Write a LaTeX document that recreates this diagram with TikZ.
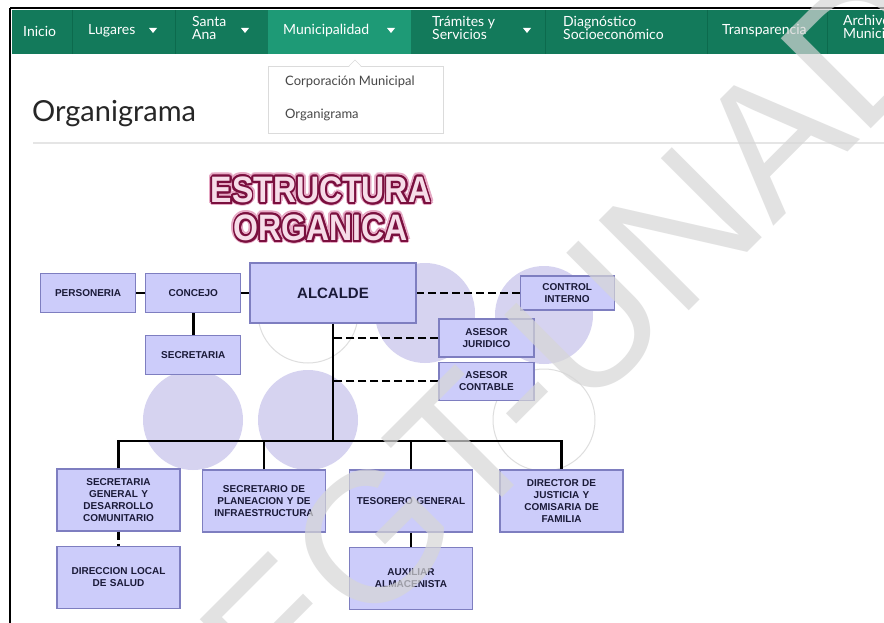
\documentclass[tikz,border=0pt]{standalone}
\usepackage{fontspec}
\setmainfont{Lato}
\newfontfamily\arialfont{Liberation Sans}
\usepackage[copies]{contour}
\usetikzlibrary{positioning}

\definecolor{navgreen}{HTML}{137A5B}
\definecolor{navactive}{HTML}{1E9A76}
\definecolor{navsep}{HTML}{0C6A4D}
\definecolor{boxfill}{HTML}{CCCCFA}
\definecolor{boxline}{HTML}{7E7EC0}
\definecolor{boxtext}{HTML}{1A1A38}
\definecolor{circfill}{HTML}{D6D3F0}
\definecolor{titlered}{HTML}{7A0F3E}
\definecolor{titleglow}{HTML}{E6A8C4}
\definecolor{titlefill}{HTML}{F6DCE8}

\newcommand{\titleword}[1]{\scalebox{1}[1.15]{\textcolor{titleglow}{\contourlength{3.2pt}\contour{titleglow}{#1}}}}
\newcommand{\titleface}[1]{\scalebox{1}[1.15]{\textcolor{titlefill}{\contourlength{1.8pt}\contour{titlered}{#1}}}}

\begin{document}
\begin{tikzpicture}[x=1pt, y=-1pt,
    node distance=8pt and 8pt,
    navitem/.style={anchor=west, inner sep=0pt, align=left, text=white, font=\fontsize{14}{12.5}\selectfont},
    navarrow/.style={fill=white},
    dropitem/.style={anchor=west, inner sep=0pt, text=black!72, font=\fontsize{13}{12}\selectfont},
    orgbox/.style={rectangle, draw=boxline, line width=1.2pt, fill=boxfill, align=center, text=boxtext,
        inner sep=1pt, font=\arialfont\bfseries\fontsize{10}{12}\selectfont},
    smallbox/.style={orgbox, minimum width=95pt, minimum height=38pt},
    widebox/.style={orgbox, minimum width=123pt, minimum height=62pt, text width=118pt},
    bgcirc/.style={fill=circfill},
    ringcirc/.style={draw=black!13, line width=1pt},
    link/.style={line width=2.7pt},
    dashlink/.style={line width=2.5pt, dash pattern=on 8pt off 4pt},
    titletext/.style={inner sep=0pt, font=\arialfont\bfseries\fontsize{32}{32}\selectfont},
    watermark/.style={rotate=45, inner sep=0pt, text=black!16, text opacity=0.7, font=\arialfont\fontsize{185}{185}\selectfont}
]
\useasboundingbox (0,0) rectangle (884,623);
\fill[white] (0,0) rectangle (884,623);

% page frame and menu bar
\fill[navgreen] (12,10) rectangle (884,54);
\fill[navactive] (268,10) rectangle (411,54);
\foreach \sx in {72,175,545,707,827}
  \draw[navsep, line width=1pt] (\sx,10) -- (\sx,54);
\draw[line width=2.5pt] (10,8) -- (884,8);
\draw[line width=2.5pt] (10,8) -- (10,623);

\node[navitem] (inicio) at (23,31) {Inicio};
\node[navitem] (lugares) at (88,31) {Lugares};
\node[navitem] (santaana) at (192,28) {Santa\\Ana};
\node[navitem] (municipalidad) at (283,31) {Municipalidad};
\node[navitem] (tramites) at (432,28) {Trámites y\\Servicios};
\node[navitem] (diagnostico) at (563,28) {Diagnóstico\\Socioeconómico};
\node[navitem] (transparencia) at (722,31) {Transparencia};
\node[navitem] (archivo) at (843,28) {Archivo\\Municipal};
\foreach \ax in {153,245,391,527}
  \fill[navarrow] (\ax-4,28) -- (\ax+4,28) -- (\ax,33) -- cycle;

% dropdown
\draw[black!14, fill=white] (268,66) rectangle (443,133);
\fill[white] (349,67) -- (355,60) -- (361,67) -- cycle;
\draw[black!14] (349,66) -- (355,60) -- (361,66);
\node[dropitem] (corporacion) at (285,82) {Corporación Municipal};
\node[dropitem] (submenu) at (285,115) {Organigrama};

% heading
\node[anchor=west, inner sep=0pt, text=black!85, font=\fontsize{29}{29}\selectfont] (heading) at (32,114) {Organigrama};
\draw[black!10, line width=1.6pt] (33,143) -- (884,143);

% background circles
\fill[bgcirc] (425,313) circle (50);
\fill[bgcirc] (544,315) circle (49);
\fill[bgcirc] (193,420) circle (50);
\fill[bgcirc] (308,420) circle (50);
\draw[ringcirc] (308,313) circle (50);
\draw[ringcirc] (544,420) circle (51);

% title
\node[titletext] (estructura) at (321,191) {\titleword{ESTRUCTURA}};
\node[titletext] at (estructura) {\titleface{ESTRUCTURA}};
\node[titletext] (organica) at (321,229) {\titleword{ORGANICA}};
\node[titletext] at (organica) {\titleface{ORGANICA}};

% boxes
\node[orgbox, minimum width=166pt, minimum height=60pt, font=\arialfont\bfseries\fontsize{15}{15}\selectfont] (alcalde) at (333,293) {ALCALDE};
\node[smallbox, minimum height=39pt, left=of alcalde] (concejo) {CONCEJO};
\node[smallbox, minimum height=39pt, left=9pt of concejo] (personeria) {PERSONERIA};
\node[smallbox, minimum height=39pt, below=22pt of concejo] (secretaria) {SECRETARIA};
\node[smallbox, minimum width=94pt, minimum height=34pt, right=103pt of alcalde] (control) {CONTROL\\INTERNO};
\node[smallbox] (juridico) at (486.5,338) {ASESOR\\JURIDICO};
\node[smallbox, below=4pt of juridico] (contable) {ASESOR\\CONTABLE};

\node[widebox] (secgeneral) at (118.5,500) {SECRETARIA\\GENERAL Y\\DESARROLLO\\COMUNITARIO};
\node[widebox] (planeacion) at (264,501) {SECRETARIO DE\\PLANEACION Y DE\\INFRAESTRUCTURA};
\node[widebox] (tesorero) at (411,501) {TESORERO GENERAL};
\node[widebox] (director) at (561.5,501) {DIRECTOR DE\\JUSTICIA Y\\COMISARIA DE\\FAMILIA};
\node[widebox, below=14pt of secgeneral] (salud) {DIRECCION LOCAL\\DE SALUD};
\node[widebox, below=14pt of tesorero] (auxiliar) {AUXILIAR\\ALMACENISTA};

% connectors
\coordinate (bus) at (333,441);
\draw[link] (personeria) -- (concejo);
\draw[link] (concejo) -- (alcalde);
\draw[link] (concejo) -- (secretaria);
\draw[link] (alcalde.south) -- (bus);
\draw[link] (secgeneral.north) |- (bus) -| (director.north);
\draw[link] (planeacion.north) -- (planeacion.north |- bus);
\draw[link] (tesorero.north) -- (tesorero.north |- bus);
\draw[link] (tesorero) -- (auxiliar);
\draw[dashlink] (secgeneral) -- (salud);
\draw[dashlink] (control.west) -- (control.west -| alcalde.east);
\draw[dashlink] (juridico.west) -- (juridico.west -| alcalde.south);
\draw[dashlink] (contable.west) -- (contable.west -| alcalde.south);

% watermark
\begin{scope}
\clip (0,0) rectangle (884,623);
\node[watermark] (wm) at (572,338) {EGT-UNAD};
\end{scope}
\end{tikzpicture}
\end{document}
